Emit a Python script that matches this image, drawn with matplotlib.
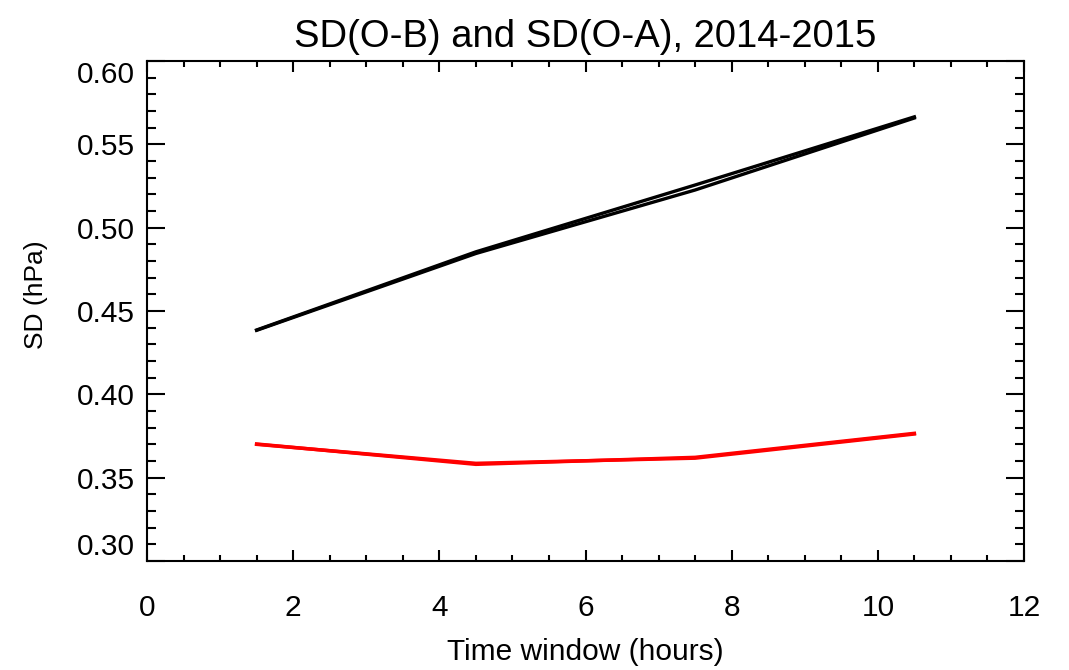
import matplotlib
matplotlib.use('Agg')
import matplotlib.pyplot as plt
from matplotlib.ticker import MultipleLocator

plt.rcParams['font.family'] = ['Liberation Sans', 'DejaVu Sans']

# time windows (hours)
hours = [1.5, 4.5, 7.5, 10.5]

# SD(O-B) - two nearly identical black curves
sd_ob_1 = [0.4386, 0.4855, 0.5256, 0.5665]
sd_ob_2 = [0.4384, 0.4845, 0.5226, 0.5658]

# SD(O-A) - red
sd_oa_1 = [0.3702, 0.3580, 0.3622, 0.3766]
sd_oa_2 = [0.3700, 0.3586, 0.3617, 0.3762]

yticks = [0.30, 0.35, 0.40, 0.45, 0.50, 0.55, 0.60]
xticks = [0, 2, 4, 6, 8, 10, 12]

fig = plt.figure(figsize=(10.69, 6.70), dpi=100)
ax = fig.add_axes([147/1069, 1-561/670, (1024-147)/1069, (561-61)/670])

ax.plot(hours, sd_ob_1, color='black', lw=2.4)
ax.plot(hours, sd_ob_2, color='black', lw=2.4)
ax.plot(hours, sd_oa_1, color='red', lw=2.5)
ax.plot(hours, sd_oa_2, color='red', lw=2.5)

ax.set_xlim(0, 12)
ax.set_ylim(0.30, 0.60)
ax.set_xticks(xticks)
ax.set_yticks(yticks)
ax.set_yticklabels(['%.2f' % v for v in yticks])
ax.xaxis.set_minor_locator(MultipleLocator(0.5))
ax.yaxis.set_minor_locator(MultipleLocator(0.01))

for s in ax.spines.values():
    s.set_linewidth(1.5)

ax.tick_params(axis='both', which='both', direction='in', top=True, right=True, width=1.5)
ax.tick_params(axis='y', which='major', length=13, labelsize=21.5, pad=9)
ax.tick_params(axis='y', which='minor', length=6.5)
ax.tick_params(axis='x', which='major', length=8, labelsize=21.5, pad=24)
ax.tick_params(axis='x', which='minor', length=4.3)

# IDL-like placement of the end labels
ylabs = ax.get_yticklabels()
ylabs[0].set_va('bottom')
ylabs[-1].set_va('top')

ax.set_xlabel('Time window (hours)', fontsize=21.5, labelpad=11)
ax.set_ylabel('SD (hPa)', fontsize=19)
ax.yaxis.set_label_coords(-0.113, 0.532)
ax.set_title('SD(O-B) and SD(O-A), 2014-2015', fontsize=27.5, pad=10)

fig.savefig('out.png', dpi=100)
